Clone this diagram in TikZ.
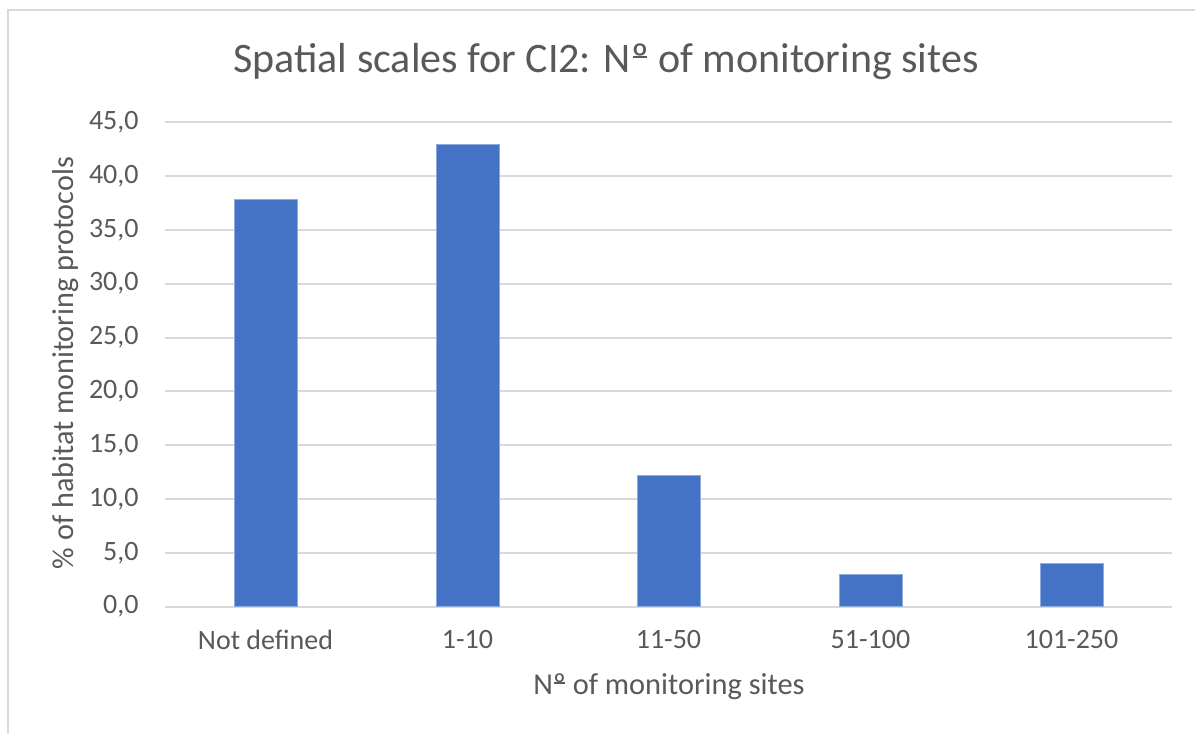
\documentclass[tikz,border=0pt]{standalone}
\usepackage{fontspec}
\setmainfont{Carlito}
\definecolor{txt}{HTML}{595959}
\definecolor{grid}{HTML}{D9D9D9}
\definecolor{bar}{HTML}{4472C4}
\newcommand{\numo}{N\setbox0\hbox{º}\copy0\llap{\rule[0.36em]{0.8\wd0}{0.055em}\kern0.1\wd0}}
\begin{document}
\begin{tikzpicture}[x=0.5pt,y=-0.5pt,
  gridline/.style={draw=grid,line width=1pt},
  barbox/.style={fill=bar,draw=bar!60!white,line width=0.4pt},
  ticklab/.style={text=txt,font=\fontsize{14}{16}\selectfont,anchor=east,inner sep=0pt},
  catlab/.style={text=txt,font=\fontsize{14}{16}\selectfont,inner sep=0pt},
  axlab/.style={text=txt,font=\fontsize{15.2}{18}\selectfont,inner sep=0pt},
  ylab/.style={text=txt,font=\fontsize{15.1}{18}\selectfont,inner sep=0pt},
  titlelab/.style={text=txt,font=\fontsize{21}{25}\selectfont,inner sep=0pt}]
\useasboundingbox (0,0) rectangle (1195,734);
\fill[white] (0,0) rectangle (1195,734);
\draw[draw=grid,line width=1pt] (8,740) -- (8,10) -- (1200,10);
% gridlines and tick labels
\foreach \v/\l in {0/0,5/5,10/10,15/15,20/20,25/25,30/30,35/35,40/40,45/45}{
  \draw[gridline] (165,{606.5-10.76*\v}) -- (1172,{606.5-10.76*\v});
  \node[ticklab] (t\v) at (139,{606.5-10.76*\v}) {\l,0};
}
% bars
\foreach \c/\val [count=\i] in {265.5/37.8,467.5/42.9,668.5/12.2,870.5/3.0,1071.5/4.0}{
  \draw[barbox] ({\c-31.5},606.5) rectangle ({\c+31.5},{606.5-10.76*\val});
}
\node[catlab] (c1) at (265.5,640) {Not defined};
\node[catlab] (c2) at (467.5,640) {1-10};
\node[catlab] (c3) at (668.5,640) {11-50};
\node[catlab] (c4) at (870.5,640) {51-100};
\node[catlab] (c5) at (1071.5,640) {101-250};
\node[axlab] (xl) at (669,687) {\numo{} of monitoring sites};
\node[ylab,rotate=90] (yl) at (66,363) {\% of habitat monitoring protocols};
\node[titlelab] (title) at (606,62) {Spatial scales for CI2: \numo{} of monitoring sites};
\end{tikzpicture}
\end{document}
